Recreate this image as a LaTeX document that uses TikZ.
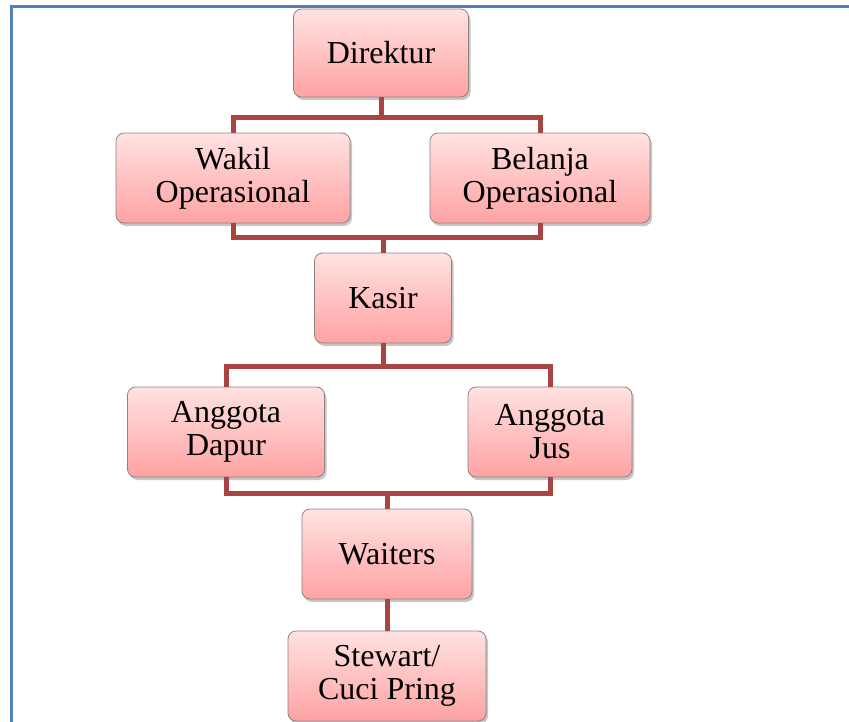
\documentclass[tikz,border=0pt]{standalone}
\usepackage{fontspec}
\setmainfont{Liberation Serif}
\usepackage{tikz}
\usetikzlibrary{positioning, shadows, calc}
\definecolor{framblue}{RGB}{79,129,189}
\definecolor{linkred}{RGB}{168,68,66}
\definecolor{pinktop}{RGB}{255,226,226}
\definecolor{pinkbot}{RGB}{255,162,162}
\definecolor{boxedge}{RGB}{140,130,130}

\begin{document}
\begin{tikzpicture}[x=1pt, y=-1pt,
  unit/.style={draw=boxedge, line width=0.8pt, rounded corners=8pt, top color=pinktop, bottom color=pinkbot,
    minimum height=90pt, align=center, inner sep=2pt, font=\fontsize{32}{33}\selectfont,
    drop shadow={opacity=0.45, shadow xshift=2pt, shadow yshift=-3pt}},
  link/.style={draw=linkred, line width=5pt},
  frame/.style={draw=framblue, line width=3pt}]
  \useasboundingbox (0,0) rectangle (849,721);
  \draw[frame] (11,730) -- (11,6) -- (860,6);
  % bus points between levels
  \coordinate (bus1) at (381,117);
  \coordinate (bus2) at (383,237);
  \coordinate (bus3) at (383,366);
  \coordinate (bus4) at (387,493);
  % the org boxes
  \node[unit, minimum width=175pt, minimum height=88pt] (direktur) at (381,53) {Direktur};
  \node[unit, minimum width=234pt] (wakil) at (233,178) {Wakil\\Operasional};
  \node[unit, minimum width=220pt] (belanja) at (540,178) {Belanja\\Operasional};
  \node[unit, minimum width=137pt] (kasir) at (383,298) {Kasir};
  \node[unit, minimum width=197pt] (dapur) at (226,432) {Anggota\\Dapur};
  \node[unit, minimum width=164pt] (jus) at (550,432) {Anggota\\Jus};
  \node[unit, minimum width=170pt] (waiters) at (387,554) {Waiters};
  \node[unit, minimum width=198pt] (stewart) at (387,676) {Stewart/\\Cuci Pring};
  % connectors
  \draw[link] (direktur.south) -- (bus1);
  \draw[link] (wakil.north) |- (bus1) -| (belanja.north);
  \draw[link] (wakil.south) |- (bus2) -| (belanja.south);
  \draw[link] (bus2) -- (kasir.north);
  \draw[link] (kasir.south) -- (bus3);
  \draw[link] (dapur.north) |- (bus3) -| (jus.north);
  \draw[link] (dapur.south) |- (bus4) -| (jus.south);
  \draw[link] (bus4) -- (waiters.north);
  \draw[link] (waiters.south) -- (stewart.north);
\end{tikzpicture}
\end{document}
